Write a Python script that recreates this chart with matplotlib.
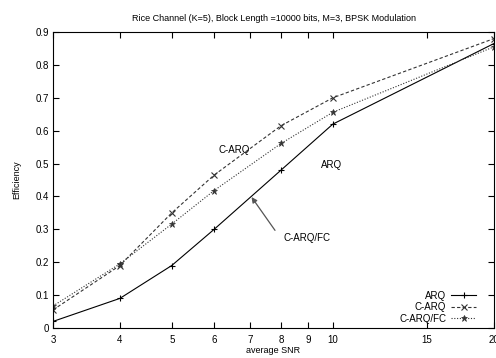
import matplotlib
matplotlib.use('Agg')
import matplotlib.pyplot as plt
from matplotlib.ticker import FixedLocator, NullLocator

# Efficiency vs average SNR
snr = [3, 4, 5, 6, 8, 10, 20]
arq = [0.02, 0.09, 0.19, 0.30, 0.48, 0.62, 0.865]
c_arq = [0.055, 0.19, 0.35, 0.465, 0.615, 0.70, 0.88]
c_arq_fc = [0.067, 0.195, 0.316, 0.418, 0.561, 0.656, 0.855]

x_ticks = [3, 4, 5, 6, 7, 8, 9, 10, 15, 20]
x_tick_labels = ['3', '4', '5', '6', '7', '8', '9', '10', '15', '20']
y_ticks = [0, 0.1, 0.2, 0.3, 0.4, 0.5, 0.6, 0.7, 0.8, 0.9]
y_tick_labels = ['0', '0.1', '0.2', '0.3', '0.4', '0.5', '0.6', '0.7', '0.8', '0.9']

plt.rcParams['font.family'] = ['Liberation Sans', 'DejaVu Sans']

fig = plt.figure(figsize=(4.96, 3.58), dpi=100)
ax = fig.add_axes([53 / 496, 1 - 328 / 358, 441 / 496, 296 / 358])

ax.plot(snr, arq, color='black', lw=0.8, ls='-', marker='+', ms=5, mew=0.8, label='ARQ')
ax.plot(snr, c_arq, color='#333333', lw=0.8, ls=(0, (3, 2)), marker='x', ms=4, mew=0.8, label='C-ARQ')
ax.plot(snr, c_arq_fc, color='#333333', lw=0.8, ls=(0, (1, 1.5)), marker='*', ms=5, mew=0.5, label='C-ARQ/FC')

ax.set_xscale('log')
ax.set_xlim(3, 20)
ax.set_ylim(0, 0.9)
ax.xaxis.set_major_locator(FixedLocator(x_ticks))
ax.xaxis.set_minor_locator(NullLocator())
ax.set_xticklabels(x_tick_labels)
ax.set_yticks(y_ticks)
ax.set_yticklabels(y_tick_labels)
ax.tick_params(direction='in', length=4, width=0.8, labelsize=7, top=True, right=True, pad=3)
ax.tick_params(axis='x', pad=5)
for s in ax.spines.values():
    s.set_linewidth(0.8)

ax.set_title('Rice Channel (K=5), Block Length =10000 bits, M=3, BPSK Modulation', fontsize=6.5, pad=8)
ax.set_xlabel('average SNR', fontsize=6.5, labelpad=1)
ax.set_ylabel('Efficiency', fontsize=6.5, labelpad=10)

ax.text(6.55, 0.54, 'C-ARQ', fontsize=7, ha='center', va='center')
ax.text(9.95, 0.495, 'ARQ', fontsize=7, ha='center', va='center')
ax.text(8.95, 0.273, 'C-ARQ/FC', fontsize=7, ha='center', va='center')
ax.annotate('', xy=(7.0, 0.405), xytext=(7.85, 0.29),
            arrowprops=dict(arrowstyle='-|>', color='#555555', lw=0.9, mutation_scale=8))

ax.legend(loc='lower right', bbox_to_anchor=(0.975, -0.008), frameon=False, markerfirst=False,
          fontsize=7, handlelength=2.6, handletextpad=0.5, labelspacing=0.15, borderpad=0.2)

fig.savefig('out.png', dpi=100)
